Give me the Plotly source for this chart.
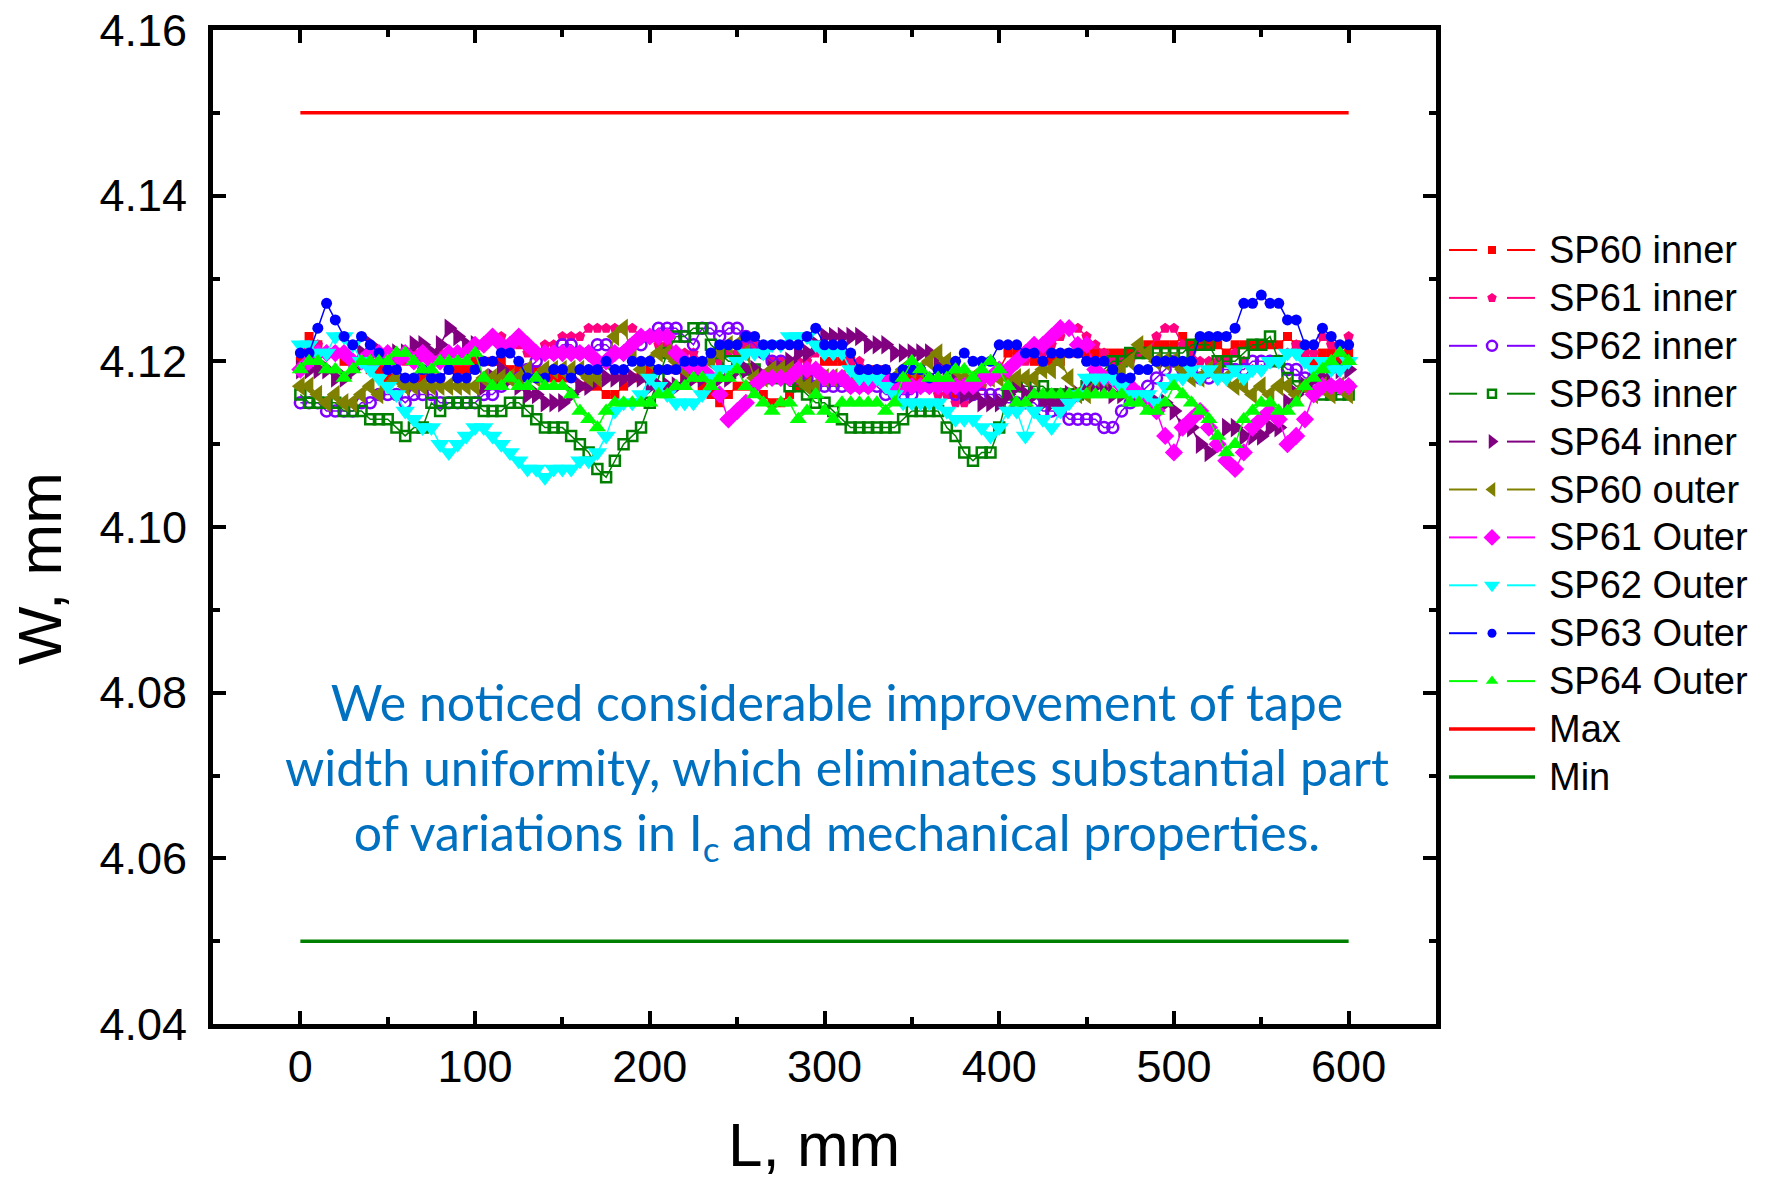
import plotly.graph_objects as go

# Position along the tape, mm (measurement every 5 mm)
L_mm = list(range(0, 605, 5))

# Tape width W, mm
W_SP60_inner = [
    4.120, 4.123, 4.122, 4.121, 4.121, 4.120, 4.120, 4.120, 4.119, 4.119,
    4.118, 4.118, 4.117, 4.117, 4.118, 4.118, 4.118, 4.119, 4.119, 4.119,
    4.120, 4.120, 4.120, 4.120, 4.119, 4.119, 4.119, 4.119, 4.118, 4.118,
    4.118, 4.118, 4.117, 4.117, 4.117, 4.116, 4.116, 4.117, 4.118, 4.118,
    4.119, 4.119, 4.119, 4.119, 4.118, 4.118, 4.117, 4.116, 4.115, 4.116,
    4.117, 4.117, 4.117, 4.116, 4.115, 4.115, 4.116, 4.117, 4.118, 4.119,
    4.120, 4.120, 4.120, 4.120, 4.119, 4.119, 4.119, 4.119, 4.118, 4.118,
    4.118, 4.118, 4.118, 4.117, 4.117, 4.116, 4.116, 4.116, 4.117, 4.118,
    4.119, 4.121, 4.121, 4.121, 4.120, 4.120, 4.120, 4.120, 4.121, 4.121,
    4.121, 4.121, 4.121, 4.121, 4.121, 4.121, 4.121, 4.122, 4.122, 4.122,
    4.122, 4.123, 4.122, 4.122, 4.122, 4.122, 4.121, 4.122, 4.122, 4.122,
    4.122, 4.122, 4.122, 4.123, 4.122, 4.121, 4.120, 4.121, 4.121, 4.120,
    4.121]

W_SP61_inner = [
    4.121, 4.122, 4.122, 4.121, 4.121, 4.121, 4.120, 4.120, 4.120, 4.120,
    4.120, 4.120, 4.120, 4.121, 4.121, 4.121, 4.121, 4.121, 4.120, 4.120,
    4.121, 4.122, 4.123, 4.123, 4.122, 4.122, 4.121, 4.121, 4.122, 4.122,
    4.123, 4.123, 4.123, 4.124, 4.124, 4.124, 4.124, 4.124, 4.124, 4.123,
    4.123, 4.122, 4.122, 4.121, 4.121, 4.121, 4.120, 4.120, 4.120, 4.121,
    4.121, 4.122, 4.122, 4.121, 4.120, 4.120, 4.120, 4.120, 4.120, 4.121,
    4.121, 4.121, 4.121, 4.120, 4.120, 4.119, 4.119, 4.118, 4.118, 4.118,
    4.117, 4.117, 4.117, 4.116, 4.116, 4.115, 4.115, 4.116, 4.117, 4.118,
    4.118, 4.119, 4.120, 4.120, 4.121, 4.121, 4.122, 4.123, 4.124, 4.124,
    4.123, 4.122, 4.121, 4.120, 4.120, 4.120, 4.121, 4.121, 4.123, 4.124,
    4.124, 4.122, 4.121, 4.120, 4.120, 4.120, 4.120, 4.121, 4.120, 4.119,
    4.119, 4.120, 4.120, 4.121, 4.122, 4.121, 4.121, 4.123, 4.122, 4.121,
    4.123]

W_SP62_inner = [
    4.115, 4.115, 4.115, 4.114, 4.114, 4.114, 4.114, 4.115, 4.115, 4.116,
    4.116, 4.116, 4.115, 4.116, 4.116, 4.116, 4.115, 4.115, 4.115, 4.115,
    4.115, 4.116, 4.116, 4.117, 4.118, 4.118, 4.119, 4.120, 4.121, 4.121,
    4.122, 4.122, 4.121, 4.121, 4.122, 4.122, 4.121, 4.121, 4.122, 4.122,
    4.123, 4.124, 4.124, 4.124, 4.123, 4.122, 4.124, 4.124, 4.123, 4.124,
    4.124, 4.123, 4.122, 4.121, 4.120, 4.120, 4.119, 4.118, 4.118, 4.117,
    4.117, 4.117, 4.117, 4.117, 4.117, 4.117, 4.117, 4.116, 4.116, 4.116,
    4.116, 4.117, 4.117, 4.117, 4.117, 4.116, 4.116, 4.116, 4.116, 4.116,
    4.116, 4.115, 4.115, 4.115, 4.115, 4.114, 4.114, 4.114, 4.113, 4.113,
    4.113, 4.113, 4.112, 4.112, 4.114, 4.115, 4.116, 4.117, 4.118, 4.119,
    4.120, 4.119, 4.119, 4.118, 4.118, 4.119, 4.119, 4.119, 4.119, 4.120,
    4.120, 4.120, 4.120, 4.119, 4.119, 4.118, 4.118, 4.117, 4.117, 4.117,
    4.117]

W_SP63_inner = [
    4.116, 4.115, 4.115, 4.115, 4.115, 4.114, 4.114, 4.114, 4.113, 4.113,
    4.113, 4.112, 4.111, 4.112, 4.112, 4.115, 4.114, 4.115, 4.115, 4.115,
    4.115, 4.114, 4.114, 4.114, 4.115, 4.115, 4.114, 4.113, 4.112, 4.112,
    4.112, 4.111, 4.110, 4.109, 4.107, 4.106, 4.108, 4.110, 4.111, 4.112,
    4.115, 4.118, 4.121, 4.123, 4.123, 4.124, 4.124, 4.122, 4.121, 4.120,
    4.120, 4.119, 4.119, 4.118, 4.118, 4.118, 4.117, 4.117, 4.116, 4.115,
    4.115, 4.114, 4.113, 4.112, 4.112, 4.112, 4.112, 4.112, 4.112, 4.113,
    4.114, 4.114, 4.114, 4.114, 4.112, 4.111, 4.109, 4.108, 4.109, 4.109,
    4.112, 4.116, 4.117, 4.117, 4.117, 4.117, 4.116, 4.116, 4.116, 4.116,
    4.117, 4.118, 4.119, 4.120, 4.120, 4.121, 4.121, 4.121, 4.121, 4.121,
    4.121, 4.121, 4.122, 4.122, 4.122, 4.120, 4.120, 4.120, 4.121, 4.122,
    4.122, 4.123, 4.120, 4.118, 4.117, 4.117, 4.117, 4.116, 4.116, 4.116,
    4.116]

W_SP64_inner = [
    4.119, 4.119, 4.119, 4.119, 4.118, 4.118, 4.119, 4.121, 4.122, 4.121,
    4.120, 4.121, 4.121, 4.122, 4.122, 4.121, 4.122, 4.124, 4.123, 4.122,
    4.122, 4.117, 4.118, 4.119, 4.118, 4.117, 4.116, 4.116, 4.115, 4.115,
    4.115, 4.116, 4.117, 4.117, 4.118, 4.118, 4.118, 4.118, 4.118, 4.118,
    4.117, 4.117, 4.117, 4.117, 4.118, 4.118, 4.118, 4.118, 4.118, 4.118,
    4.119, 4.119, 4.119, 4.118, 4.119, 4.119, 4.120, 4.121, 4.121, 4.122,
    4.123, 4.123, 4.123, 4.123, 4.123, 4.122, 4.122, 4.122, 4.121, 4.121,
    4.121, 4.121, 4.121, 4.120, 4.119, 4.118, 4.116, 4.116, 4.115, 4.115,
    4.115, 4.116, 4.117, 4.116, 4.116, 4.115, 4.115, 4.115, 4.116, 4.116,
    4.117, 4.117, 4.117, 4.116, 4.116, 4.116, 4.116, 4.115, 4.115, 4.115,
    4.114, 4.112, 4.112, 4.110, 4.109, 4.110, 4.112, 4.112, 4.111, 4.111,
    4.111, 4.112, 4.112, 4.115, 4.116, 4.117, 4.118, 4.118, 4.119, 4.119,
    4.119]

W_SP60_outer = [
    4.117, 4.117, 4.116, 4.115, 4.116, 4.115, 4.115, 4.116, 4.117, 4.116,
    4.117, 4.118, 4.117, 4.117, 4.117, 4.117, 4.117, 4.117, 4.117, 4.117,
    4.117, 4.118, 4.118, 4.118, 4.118, 4.118, 4.119, 4.118, 4.119, 4.119,
    4.119, 4.119, 4.119, 4.118, 4.118, 4.120, 4.123, 4.124, 4.121, 4.119,
    4.120, 4.121, 4.121, 4.120, 4.119, 4.119, 4.119, 4.120, 4.121, 4.122,
    4.122, 4.121, 4.118, 4.118, 4.119, 4.119, 4.119, 4.118, 4.117, 4.117,
    4.118, 4.118, 4.118, 4.118, 4.118, 4.118, 4.118, 4.118, 4.118, 4.119,
    4.119, 4.119, 4.120, 4.121, 4.120, 4.119, 4.118, 4.118, 4.118, 4.118,
    4.118, 4.118, 4.118, 4.118, 4.118, 4.119, 4.119, 4.120, 4.118, 4.116,
    4.116, 4.118, 4.118, 4.118, 4.119, 4.120, 4.122, 4.121, 4.120, 4.120,
    4.120, 4.119, 4.118, 4.118, 4.119, 4.119, 4.118, 4.117, 4.117, 4.116,
    4.117, 4.116, 4.117, 4.117, 4.116, 4.117, 4.116, 4.117, 4.116, 4.117,
    4.116]

W_SP61_outer = [
    4.119, 4.120, 4.121, 4.121, 4.121, 4.121, 4.120, 4.120, 4.121, 4.121,
    4.121, 4.120, 4.121, 4.120, 4.121, 4.120, 4.120, 4.121, 4.121, 4.121,
    4.122, 4.122, 4.123, 4.122, 4.122, 4.123, 4.122, 4.121, 4.121, 4.121,
    4.121, 4.121, 4.121, 4.121, 4.120, 4.120, 4.121, 4.121, 4.122, 4.123,
    4.123, 4.123, 4.123, 4.121, 4.120, 4.119, 4.119, 4.118, 4.116, 4.113,
    4.114, 4.115, 4.117, 4.118, 4.118, 4.118, 4.118, 4.119, 4.119, 4.119,
    4.118, 4.118, 4.118, 4.117, 4.117, 4.117, 4.118, 4.118, 4.117, 4.117,
    4.117, 4.117, 4.117, 4.117, 4.117, 4.117, 4.117, 4.117, 4.118, 4.118,
    4.119, 4.119, 4.120, 4.121, 4.122, 4.122, 4.123, 4.124, 4.124, 4.122,
    4.122, 4.119, 4.118, 4.118, 4.117, 4.117, 4.116, 4.115, 4.114, 4.111,
    4.109, 4.112, 4.113, 4.114, 4.112, 4.110, 4.108, 4.107, 4.109, 4.112,
    4.113, 4.114, 4.113, 4.110, 4.111, 4.113, 4.116, 4.117, 4.117, 4.117,
    4.117]

W_SP62_outer = [
    4.122, 4.122, 4.121, 4.121, 4.123, 4.123, 4.122, 4.120, 4.119, 4.118,
    4.117, 4.116, 4.114, 4.113, 4.112, 4.112, 4.110, 4.109, 4.110, 4.111,
    4.112, 4.112, 4.111, 4.110, 4.109, 4.108, 4.107, 4.107, 4.106, 4.107,
    4.107, 4.107, 4.108, 4.108, 4.109, 4.111, 4.114, 4.115, 4.115, 4.116,
    4.118, 4.117, 4.116, 4.115, 4.115, 4.115, 4.116, 4.118, 4.119, 4.119,
    4.120, 4.121, 4.121, 4.121, 4.122, 4.122, 4.123, 4.123, 4.123, 4.122,
    4.121, 4.121, 4.121, 4.119, 4.118, 4.118, 4.118, 4.117, 4.116, 4.115,
    4.115, 4.115, 4.115, 4.115, 4.114, 4.113, 4.113, 4.113, 4.112, 4.111,
    4.112, 4.114, 4.114, 4.111, 4.114, 4.113, 4.112, 4.114, 4.115, 4.116,
    4.118, 4.118, 4.118, 4.118, 4.117, 4.116, 4.116, 4.116, 4.115, 4.117,
    4.118, 4.118, 4.119, 4.118, 4.119, 4.118, 4.118, 4.119, 4.118, 4.119,
    4.119, 4.120, 4.120, 4.121, 4.121, 4.120, 4.119, 4.120, 4.119, 4.119,
    4.120]

W_SP63_outer = [
    4.121, 4.121, 4.124, 4.127, 4.125, 4.123, 4.122, 4.123, 4.122, 4.121,
    4.119, 4.119, 4.118, 4.118, 4.119, 4.118, 4.118, 4.119, 4.118, 4.118,
    4.119, 4.120, 4.120, 4.121, 4.121, 4.120, 4.118, 4.118, 4.118, 4.119,
    4.119, 4.118, 4.119, 4.119, 4.119, 4.120, 4.119, 4.119, 4.120, 4.120,
    4.120, 4.119, 4.119, 4.119, 4.120, 4.120, 4.120, 4.121, 4.122, 4.122,
    4.122, 4.123, 4.123, 4.122, 4.122, 4.122, 4.122, 4.122, 4.123, 4.124,
    4.122, 4.122, 4.122, 4.121, 4.119, 4.119, 4.119, 4.119, 4.118, 4.119,
    4.119, 4.119, 4.118, 4.119, 4.119, 4.120, 4.121, 4.120, 4.120, 4.120,
    4.122, 4.122, 4.122, 4.121, 4.121, 4.120, 4.121, 4.121, 4.121, 4.121,
    4.120, 4.120, 4.120, 4.119, 4.118, 4.118, 4.119, 4.119, 4.120, 4.120,
    4.120, 4.120, 4.120, 4.123, 4.123, 4.123, 4.123, 4.124, 4.127, 4.127,
    4.128, 4.127, 4.127, 4.125, 4.125, 4.122, 4.122, 4.124, 4.123, 4.122,
    4.122]

W_SP64_outer = [
    4.119, 4.120, 4.120, 4.119, 4.119, 4.118, 4.119, 4.120, 4.120, 4.120,
    4.120, 4.121, 4.121, 4.120, 4.119, 4.119, 4.120, 4.120, 4.120, 4.120,
    4.121, 4.118, 4.117, 4.117, 4.118, 4.117, 4.117, 4.118, 4.117, 4.117,
    4.117, 4.116, 4.114, 4.113, 4.112, 4.114, 4.115, 4.115, 4.115, 4.115,
    4.115, 4.116, 4.116, 4.117, 4.117, 4.118, 4.118, 4.117, 4.118, 4.118,
    4.119, 4.117, 4.116, 4.115, 4.114, 4.115, 4.115, 4.113, 4.114, 4.116,
    4.114, 4.113, 4.115, 4.115, 4.115, 4.115, 4.115, 4.114, 4.115, 4.118,
    4.120, 4.119, 4.118, 4.118, 4.118, 4.119, 4.119, 4.118, 4.119, 4.120,
    4.119, 4.117, 4.115, 4.115, 4.116, 4.116, 4.116, 4.116, 4.116, 4.116,
    4.116, 4.116, 4.116, 4.116, 4.116, 4.115, 4.115, 4.114, 4.114, 4.115,
    4.117, 4.116, 4.115, 4.114, 4.113, 4.111, 4.109, 4.110, 4.113, 4.114,
    4.115, 4.115, 4.114, 4.114, 4.115, 4.117, 4.118, 4.119, 4.120, 4.121,
    4.120]

# Tolerance limits
limit_L = [0, 600]
W_max = [4.15, 4.15]
W_min = [4.05, 4.05]

series_names = ["SP60 inner", "SP61 inner", "SP62 inner", "SP63 inner", "SP64 inner",
                "SP60 outer", "SP61 Outer", "SP62 Outer", "SP63 Outer", "SP64 Outer"]
series_values = [W_SP60_inner, W_SP61_inner, W_SP62_inner, W_SP63_inner, W_SP64_inner,
                 W_SP60_outer, W_SP61_outer, W_SP62_outer, W_SP63_outer, W_SP64_outer]

x_ticks = [0, 100, 200, 300, 400, 500, 600]
y_ticks = [4.04, 4.06, 4.08, 4.10, 4.12, 4.14, 4.16]
y_tick_text = ["4.04", "4.06", "4.08", "4.10", "4.12", "4.14", "4.16"]

styles = [
    dict(color="#FF0000", symbol="square", size=9, lsize=8),
    dict(color="#FF0080", symbol="pentagon", size=11, lsize=10),
    dict(color="#8000FF", symbol="circle-open", size=11, lsize=10),
    dict(color="#008000", symbol="square-open", size=10, lsize=8),
    dict(color="#800080", symbol="triangle-right", size=17, lsize=13),
    dict(color="#808000", symbol="triangle-left", size=17, lsize=13),
    dict(color="#FF00FF", symbol="diamond", size=14, lsize=13),
    dict(color="#00FFFF", symbol="triangle-down", size=17, lsize=14),
    dict(color="#0000FF", symbol="circle", size=11, lsize=9),
    dict(color="#00FF00", symbol="triangle-up", size=15, lsize=11),
]

ARIAL = "Liberation Sans, Arial, sans-serif"

fig = go.Figure()
for name, vals, st in zip(series_names, series_values, styles):
    marker = dict(symbol=st["symbol"], size=st["size"], color=st["color"])
    if st["symbol"].endswith("open"):
        marker["line"] = dict(width=2.5, color=st["color"])
    fig.add_trace(go.Scatter(
        x=L_mm, y=vals, name=name, mode="lines+markers", showlegend=False,
        line=dict(color=st["color"], width=1.5), marker=marker,
    ))

fig.add_trace(go.Scatter(x=limit_L, y=W_max, name="Max", mode="lines", showlegend=False,
                         line=dict(color="#FF0000", width=3.5)))
fig.add_trace(go.Scatter(x=limit_L, y=W_min, name="Min", mode="lines", showlegend=False,
                         line=dict(color="#008000", width=3.5)))

# ---- legend drawn on a hidden helper axis (pixel units) to the right of the plot ----
leg_row0 = 220.0
leg_step = 47.9
legend_entries = list(zip(series_names, styles)) + [
    ("Max", dict(color="#FF0000", symbol=None)),
    ("Min", dict(color="#008000", symbol=None)),
]
for i, (name, st) in enumerate(legend_entries):
    yy = leg_row0 + i * leg_step
    if st["symbol"] is None:
        fig.add_trace(go.Scatter(x=[9, 95], y=[yy, yy], mode="lines", xaxis="x2", yaxis="y2",
                                 showlegend=False, hoverinfo="skip",
                                 line=dict(color=st["color"], width=3.5)))
    else:
        for seg in ([9, 37], [67, 95]):
            fig.add_trace(go.Scatter(x=seg, y=[yy, yy], mode="lines", xaxis="x2", yaxis="y2",
                                     showlegend=False, hoverinfo="skip",
                                     line=dict(color=st["color"], width=2)))
        mk = dict(symbol=st["symbol"], size=st["lsize"], color=st["color"])
        if st["symbol"].endswith("open"):
            mk["line"] = dict(width=2.5, color=st["color"])
        fig.add_trace(go.Scatter(x=[52], y=[yy], mode="markers", xaxis="x2", yaxis="y2",
                                 showlegend=False, hoverinfo="skip", marker=mk))
    fig.add_annotation(x=107, y=yy, xref="x2", yref="y2", text=name, showarrow=False,
                       xanchor="left", yanchor="middle",
                       font=dict(family=ARIAL, size=38, color="black"))

axis_common = dict(
    showline=True, linecolor="black", linewidth=5, mirror="allticks",
    ticks="inside", ticklen=13, tickwidth=4, tickcolor="black",
    showgrid=False, zeroline=False, automargin=False,
    tickfont=dict(family=ARIAL, size=45, color="black"),
)

plot_w = 1766 - 213 - 6
main_end = (1436 - 213) / plot_w
leg_start = (1440 - 213) / plot_w

fig.update_layout(
    xaxis=dict(
        domain=[0, main_end], range=[-50, 650], tickmode="array",
        tickvals=x_ticks, ticktext=[str(v) for v in x_ticks],
        minor=dict(ticks="inside", ticklen=7, tickwidth=4, tickcolor="black", dtick=50, tick0=0),
        ticklabelstandoff=-1, **axis_common,
    ),
    yaxis=dict(
        domain=[0, 1], range=[4.04, 4.16], tickmode="array",
        tickvals=y_ticks, ticktext=y_tick_text,
        minor=dict(ticks="inside", ticklen=7, tickwidth=4, tickcolor="black", dtick=0.01, tick0=4.04),
        ticklabelstandoff=12, **axis_common,
    ),
    xaxis2=dict(domain=[leg_start, 1], range=[0, 320], visible=False, anchor="y2",
                fixedrange=True, automargin=False),
    yaxis2=dict(domain=[0, 1], range=[994, 0], visible=False, anchor="x2",
                fixedrange=True, automargin=False),
)

# Axis titles
fig.add_annotation(x=(39 - 213) / plot_w, y=(1024 - 569) / 994, xref="paper", yref="paper",
                   text="W, mm", textangle=-90, showarrow=False,
                   xanchor="center", yanchor="middle",
                   font=dict(family=ARIAL, size=62, color="black"))
fig.add_annotation(x=(814 - 213) / plot_w, y=(1024 - 1181) / 994, xref="paper", yref="paper",
                   text="L, mm", showarrow=False, xanchor="center", yanchor="bottom",
                   font=dict(family=ARIAL, size=62, color="black"))

fig.add_annotation(
    x=307, y=4.0706, xref="x", yref="y",
    text="We noticed considerable improvement of tape<br>"
         "width uniformity, which eliminates substantial part<br>"
         "of variations in I<sub>c</sub> and mechanical properties.",
    showarrow=False, align="center", xanchor="center", yanchor="middle",
    font=dict(family="Lato, Open Sans, sans-serif", size=50, color="#0070C0"),
)

fig.update_layout(
    width=1766, height=1183,
    margin=dict(l=213, r=6, t=30, b=159, autoexpand=False),
    paper_bgcolor="white", plot_bgcolor="white",
    showlegend=False,
)

fig.write_html("out.html")
